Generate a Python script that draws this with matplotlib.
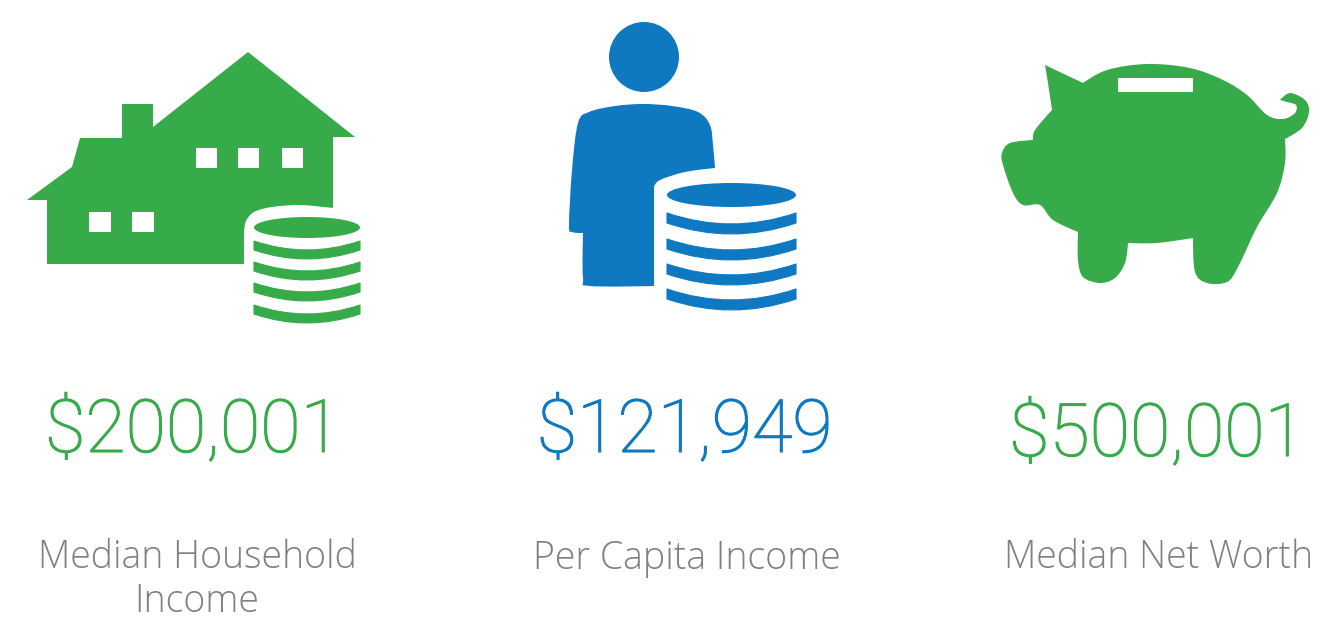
import matplotlib
matplotlib.use("Agg")
import matplotlib.pyplot as plt
import matplotlib.patheffects as pe
import numpy as np
from matplotlib.patches import Polygon, Rectangle, Circle, Ellipse, PathPatch
from matplotlib.path import Path

values = ["$200,001", "$121,949", "$500,001"]
labels = ["Median Household\nIncome", "Per Capita Income", "Median Net Worth"]
value_colors = ["#37AB49", "#0E79C1", "#37AB49"]
GREEN, BLUE, GREY = "#37AB49", "#0E79C1", "#808080"

fig = plt.figure(figsize=(13.34, 6.27), dpi=100, facecolor="white")
ax = fig.add_axes([0, 0, 1, 1])
ax.set_xlim(0, 1334); ax.set_ylim(627, 0); ax.axis("off")

def outline(points, color, z=2):
    """Closed Catmull-Rom outline; points with a third element are sharp corners."""
    P = np.array([p[:2] for p in points], float)
    sharp = [len(p) > 2 for p in points]
    n = len(P)
    T = [np.zeros(2) if sharp[i] else (P[(i + 1) % n] - P[i - 1]) / 2 for i in range(n)]
    verts, codes = [P[0]], [Path.MOVETO]
    for i in range(n):
        j = (i + 1) % n
        verts += [P[i] + T[i] / 3, P[j] - T[j] / 3, P[j]]
        codes += [Path.CURVE4] * 3
    verts.append(P[0]); codes.append(Path.CLOSEPOLY)
    ax.add_patch(PathPatch(Path(verts, codes), fc=color, ec="none", zorder=z))

def coins(x0, x1, top, ell_h, band_tops, sag, t, color):
    cx = (x0 + x1) / 2
    ax.add_patch(Ellipse((cx, top + ell_h / 2), x1 - x0, ell_h, fc=color, ec="none", zorder=6))
    for y in band_tops:
        v = [(x0, y), (cx, y + 2 * sag), (x1, y), (x1, y + t), (cx, y + t + 2 * sag), (x0, y + t), (x0, y), (x0, y)]
        c = [Path.MOVETO, Path.CURVE3, Path.CURVE3, Path.LINETO, Path.CURVE3, Path.CURVE3, Path.LINETO, Path.CLOSEPOLY]
        ax.add_patch(PathPatch(Path(v, c), fc=color, ec=color, lw=0.8, joinstyle="round", zorder=6))

# House
outline([(27, 200, 1), (72, 167, 1), (80, 138, 1), (122, 138, 1), (122, 104, 1), (153, 104, 1), (153, 127, 1),
         (248, 52, 1), (355, 137, 1), (333, 137, 1), (333, 208, 1), (300, 205), (272, 207), (254, 212), (246, 221),
         (244, 232, 1), (244, 264, 1), (47, 264, 1), (47, 200, 1)], GREEN)
for x, y, w, h in [(196, 148, 21, 20), (238, 148, 21, 20), (282, 148, 21, 20), (89, 212, 22, 20), (132, 212, 22, 20)]:
    ax.add_patch(Rectangle((x, y), w, h, fc="white", ec="none", zorder=3))
coins(254, 360, 217, 21, [241, 262, 283, 305], 9, 9, GREEN)

# Person
ax.add_patch(Circle((644, 57), 35, fc=BLUE, ec="none", zorder=2))
outline([(589, 112), (615, 106), (643, 104), (672, 106), (698, 112), (710, 125), (713, 145), (715, 168, 1),
         (685, 172), (660, 180), (654, 187, 1), (654, 286, 1), (590, 286), (583, 278), (583, 233, 1), (572, 232),
         (569, 225), (572, 170), (578, 123)], BLUE)
coins(667, 796, 183, 24, [213, 239, 264, 289], 11, 10, BLUE)

# Piggy bank
outline([(1045, 65, 1), (1083, 83, 1), (1107, 70), (1147, 64), (1190, 68), (1223, 80), (1247, 95), (1267, 115),
         (1283, 119), (1295, 113), (1296, 105), (1287, 102), (1280, 100, 1), (1290, 93), (1305, 100), (1309, 112),
         (1302, 128), (1285, 139, 1), (1285, 163), (1277, 193), (1257, 227), (1238, 267), (1227, 282), (1207, 283),
         (1195, 272), (1193, 238, 1), (1157, 243), (1128, 243, 1), (1125, 263), (1115, 278), (1100, 283), (1083, 277),
         (1078, 260), (1078, 232, 1), (1053, 220), (1040, 205), (1023, 205), (1013, 193), (1003, 165), (1002, 153),
         (1010, 143), (1033, 140, 1), (1035, 130), (1052, 110, 1), (1048, 83)], GREEN)
ax.add_patch(Rectangle((1118, 78), 75, 14, fc="white", ec="none", zorder=3))

# Text
value_x = [193, 685, 1157]
value_y = [452, 452, 456]
label_x = [197, 687, 1159]
for x, y, s, c in zip(value_x, value_y, values, value_colors):
    ax.text(x, y, s, color=c, fontsize=53, family="Roboto", fontweight="light", ha="center", va="baseline",
            path_effects=[pe.withStroke(linewidth=0.8, foreground=c)])
for x, s in zip(label_x, labels):
    ax.text(x, 539, s, color=GREY, fontsize=27, family="Open Sans", fontweight="light", ha="center", va="top", linespacing=1.17)

fig.savefig("out.png", dpi=100)
